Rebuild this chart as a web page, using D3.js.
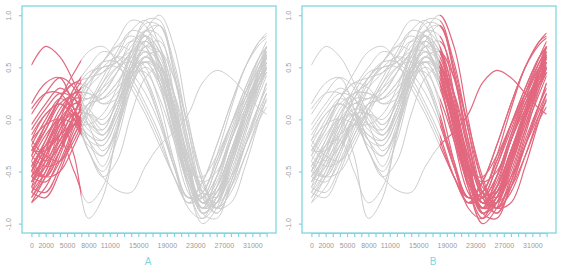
<html>
<head>
<meta charset="utf-8">
<style>
  body { margin: 0; background: #fff; }
  svg { font-family: "Liberation Sans", Arial, sans-serif; }
  .box { fill: none; stroke: #80d6df; stroke-width: 1.3; }
  .axis path, .axis line { stroke: #80d6df; stroke-width: 1.2; }
  .axis text { fill: #9a9a9a; font-size: 7px; }
  .grey { fill: none; stroke: #cccccc; stroke-width: 1; }
  .pink { fill: none; stroke: #e2687f; stroke-width: 1.2; }
  .panel-label { fill: #80d6df; font-size: 10px; text-anchor: middle; }
</style>
</head>
<body>
<script src="https://d3js.org/d3.v7.min.js"></script>
<script>
// sample positions of every curve
var xKnots = [0, 2000, 4000, 6000, 8000, 10000, 12000, 14000, 16000, 18000,
              20000, 22000, 24000, 26000, 28000, 30000, 32000, 33000];

// curve values, one row per curve, read at xKnots
var curves = [
  [-0.55,-0.35,-0.10, 0.10, 0.05,-0.10, 0.20, 0.60, 0.80, 0.55, 0.00,-0.60,-0.85,-0.55,-0.15, 0.20, 0.50, 0.62],
  [-0.70,-0.50,-0.20, 0.05,-0.20,-0.45,-0.10, 0.45, 0.85, 0.80, 0.25,-0.45,-0.90,-0.75,-0.35, 0.10, 0.50, 0.65],
  [-0.30,-0.10, 0.15, 0.25, 0.35, 0.50, 0.60, 0.55, 0.35, 0.00,-0.40,-0.75,-0.70,-0.40,-0.05, 0.25, 0.50, 0.58],
  [-0.45,-0.55,-0.30, 0.05, 0.30, 0.45, 0.60, 0.75, 0.70, 0.35,-0.20,-0.70,-0.85,-0.55,-0.15, 0.25, 0.60, 0.75],
  [ 0.52, 0.70, 0.60, 0.35, 0.05,-0.15, 0.05, 0.45, 0.60, 0.40,-0.05,-0.55,-0.75,-0.55,-0.20, 0.10, 0.35, 0.45],
  [-0.20,-0.05, 0.00,-0.35,-0.95,-0.75,-0.10, 0.50, 0.80, 0.65, 0.10,-0.50,-0.80,-0.65,-0.30, 0.05, 0.35, 0.45],
  [ 0.15, 0.35, 0.40, 0.10,-0.30,-0.55,-0.68,-0.70,-0.45,-0.25,-0.12, 0.05, 0.35, 0.47, 0.40, 0.25, 0.10, 0.05],
  [-0.80,-0.55,-0.25, 0.00,-0.30,-0.50,-0.20, 0.30, 0.60, 0.45,-0.05,-0.55,-0.80,-0.60,-0.20, 0.15, 0.45, 0.55],
  [-0.60,-0.30, 0.00, 0.15, 0.20, 0.30, 0.45, 0.65, 0.85, 0.90, 0.50,-0.10,-0.60,-0.85,-0.60,-0.20, 0.15, 0.30],
  [-0.10, 0.10, 0.25, 0.20, 0.00,-0.15, 0.10, 0.50, 0.75, 0.55, 0.05,-0.50,-0.80,-0.65,-0.30, 0.05, 0.35, 0.48],
  [-0.65,-0.70,-0.45,-0.10, 0.15, 0.20, 0.35, 0.60, 0.80, 0.65, 0.10,-0.45,-0.80,-0.75,-0.40, 0.05, 0.45, 0.60],
  [-0.40,-0.15, 0.00,-0.05,-0.25,-0.35,-0.05, 0.40, 0.55, 0.30,-0.15,-0.50,-0.55,-0.35,-0.05, 0.20, 0.40, 0.50],
  [-0.75,-0.50,-0.15, 0.20, 0.40, 0.55, 0.75, 0.95, 0.90, 0.50,-0.10,-0.65,-0.95,-0.80,-0.40, 0.05, 0.45, 0.62],
  [-0.25, 0.00, 0.20, 0.10,-0.20,-0.35,-0.10, 0.30, 0.55, 0.50, 0.15,-0.35,-0.70,-0.70,-0.40, 0.00, 0.45, 0.70],
  [-0.50,-0.20, 0.10, 0.25, 0.25, 0.15, 0.25, 0.50, 0.70, 0.65, 0.25,-0.30,-0.75,-0.85,-0.55,-0.10, 0.35, 0.55],
  [-0.35,-0.45,-0.40,-0.15, 0.10, 0.35, 0.60, 0.85, 0.95, 0.70, 0.10,-0.50,-0.90,-0.80,-0.40, 0.05, 0.50, 0.70],
  [ 0.05, 0.25, 0.40, 0.30,-0.05,-0.30,-0.10, 0.35, 0.60, 0.50, 0.05,-0.50,-0.80,-0.65,-0.30, 0.05, 0.35, 0.45],
  [-0.55,-0.60,-0.40,-0.05, 0.30, 0.55, 0.70, 0.65, 0.40, 0.00,-0.45,-0.75,-0.70,-0.35, 0.10, 0.50, 0.75, 0.83],
  [-0.70,-0.40,-0.05, 0.15, 0.10,-0.05, 0.15, 0.45, 0.55, 0.45, 0.10,-0.35,-0.65,-0.75,-0.55,-0.25, 0.05, 0.18],
  [-0.20,-0.35,-0.40,-0.20, 0.10, 0.35, 0.50, 0.55, 0.40, 0.05,-0.45,-0.80,-0.70,-0.40,-0.05, 0.30, 0.60, 0.70],
  [-0.60,-0.35, 0.00, 0.30, 0.50, 0.65, 0.60, 0.45, 0.25,-0.05,-0.45,-0.75,-0.75,-0.45,-0.10, 0.25, 0.55, 0.65],
  [-0.45,-0.25,-0.05, 0.05,-0.05,-0.10, 0.20, 0.65, 0.95, 0.95, 0.45,-0.30,-0.90,-0.95,-0.60,-0.15, 0.30, 0.50],
  [ 0.10, 0.25, 0.25, 0.05,-0.20,-0.25, 0.00, 0.35, 0.50, 0.35,-0.05,-0.45,-0.60,-0.50,-0.20, 0.15, 0.40, 0.50],
  [-0.80,-0.65,-0.35, 0.00, 0.15, 0.20, 0.35, 0.50, 0.55, 0.35,-0.05,-0.50,-0.80,-0.70,-0.35, 0.05, 0.40, 0.55],
  [-0.35,-0.10, 0.20, 0.35, 0.40, 0.45, 0.55, 0.65, 0.65, 0.40,-0.05,-0.55,-0.85,-0.75,-0.40, 0.00, 0.35, 0.50],
  [-0.60,-0.40,-0.20,-0.05,-0.15,-0.25, 0.00, 0.40, 0.75, 0.90, 0.55,-0.10,-0.70,-0.90,-0.65,-0.25, 0.15, 0.35],
  [-0.15, 0.05, 0.15, 0.05,-0.15,-0.20, 0.10, 0.55, 0.75, 0.55, 0.05,-0.50,-0.80,-0.70,-0.35, 0.05, 0.40, 0.60],
  [-0.50,-0.55,-0.30, 0.05, 0.40, 0.55, 0.55, 0.40, 0.15,-0.15,-0.55,-0.80,-0.60,-0.25, 0.15, 0.50, 0.75, 0.80],
  [-0.65,-0.45,-0.10, 0.25, 0.45, 0.50, 0.55, 0.70, 0.85, 0.70, 0.20,-0.40,-0.85,-0.80,-0.45,-0.05, 0.30, 0.45],
  [-0.30,-0.30,-0.15, 0.05, 0.05,-0.05, 0.15, 0.50, 0.65, 0.45, 0.00,-0.50,-0.85,-0.80,-0.45,-0.05, 0.35, 0.50],
  [-0.55,-0.25, 0.00, 0.05,-0.10,-0.20, 0.05, 0.45, 0.70, 0.75, 0.40,-0.20,-0.70,-0.85,-0.60,-0.25, 0.10, 0.25],
  [-0.40,-0.55,-0.50,-0.25, 0.05, 0.30, 0.50, 0.60, 0.50, 0.15,-0.40,-0.85,-0.95,-0.65,-0.20, 0.20, 0.55, 0.70],
  [-0.75,-0.55,-0.30,-0.05, 0.15, 0.40, 0.65, 0.85, 0.80, 0.45,-0.10,-0.60,-0.85,-0.70,-0.30, 0.10, 0.45, 0.62],
  [-0.05, 0.15, 0.30, 0.20,-0.05,-0.15, 0.10, 0.45, 0.65, 0.55, 0.10,-0.45,-0.80,-0.70,-0.35, 0.05, 0.40, 0.55],
  [-0.50,-0.30,-0.15,-0.05,-0.05, 0.05, 0.30, 0.65, 0.92, 0.90, 0.45,-0.20,-0.75,-0.90,-0.65,-0.25, 0.15, 0.35],
  [-0.65,-0.30, 0.05, 0.25, 0.25, 0.20, 0.30, 0.45, 0.45, 0.20,-0.20,-0.60,-0.75,-0.55,-0.20, 0.15, 0.45, 0.58],
  [-0.25,-0.40,-0.25, 0.05, 0.35, 0.50, 0.50, 0.35, 0.10,-0.20,-0.55,-0.75,-0.60,-0.25, 0.15, 0.50, 0.72, 0.78],
  [-0.45,-0.20, 0.05, 0.20, 0.20, 0.25, 0.45, 0.75, 0.80, 0.50,-0.05,-0.60,-0.90,-0.75,-0.35, 0.05, 0.45, 0.65],
  [-0.70,-0.75,-0.50,-0.15, 0.10, 0.25, 0.45, 0.65, 0.75, 0.60, 0.15,-0.40,-0.80,-0.80,-0.50,-0.10, 0.25, 0.42],
  [-0.35,-0.05, 0.20, 0.35, 0.30, 0.15, 0.20, 0.40, 0.60, 0.65, 0.40,-0.05,-0.55,-0.85,-0.80,-0.45, 0.00, 0.20],
  [-0.50,-0.25,-0.20,-0.50,-0.80,-0.65,-0.15, 0.40, 0.70, 0.55, 0.05,-0.50,-0.80,-0.65,-0.30, 0.05, 0.40, 0.52],
  [-0.30,-0.05, 0.20, 0.45, 0.65, 0.70, 0.55, 0.30, 0.05,-0.25,-0.55,-0.80,-0.75,-0.45,-0.05, 0.30, 0.60, 0.68],
  [-0.60,-0.45,-0.25,-0.05, 0.05, 0.00, 0.20, 0.55, 0.85, 1.00, 0.70, 0.00,-0.60,-0.85,-0.70,-0.35, 0.05, 0.25],
  [-0.20, 0.05, 0.15, 0.00,-0.30,-0.55,-0.40, 0.05, 0.40, 0.50, 0.25,-0.25,-0.70,-0.80,-0.65,-0.35, 0.00, 0.12],
  [-0.55,-0.35,-0.05, 0.20, 0.40, 0.55, 0.70, 0.80, 0.70, 0.35,-0.15,-0.65,-1.00,-0.85,-0.45, 0.00, 0.45, 0.60]
];

var xTickLabels = [0, 2000, 5000, 8000, 11000, 15000, 19000, 23000, 27000, 31000];
var yTickValues = [-1, -0.5, 0, 0.5, 1];
var yTickLabels = ["-1.0", "-0.5", "0.0", "0.5", "1.0"];

// highlighted span of each panel
var panels = [
  { name: "A", left: 22, from: 0, to: 7000 },
  { name: "B", left: 302, from: 18000, to: 33000 }
];

var width = 571, height = 267,
    boxWidth = 254, plotTop = 6, plotBottom = 233;

var svg = d3.select("body").append("svg")
    .attr("width", width)
    .attr("height", height);

var y = d3.scaleLinear().domain([-1.09, 1.088]).range([plotBottom, plotTop]);

panels.forEach(function(p, i) {
  var x = d3.scaleLinear().domain([-1320, 34320]).range([p.left, p.left + boxWidth]);

  var line = d3.line()
      .x(function(d, j) { return x(xKnots[j]); })
      .y(function(d) { return y(d); })
      .curve(d3.curveCatmullRom.alpha(0.5));

  var defs = svg.append("defs");
  defs.append("clipPath").attr("id", "hi" + i)
    .append("rect")
      .attr("x", x(p.from)).attr("width", x(p.to) - x(p.from))
      .attr("y", 0).attr("height", height);
  // the grey part is everything outside the highlighted span
  var lo = defs.append("clipPath").attr("id", "lo" + i);
  lo.append("rect")
      .attr("x", 0).attr("width", x(p.from))
      .attr("y", 0).attr("height", height);
  lo.append("rect")
      .attr("x", x(p.to)).attr("width", width - x(p.to))
      .attr("y", 0).attr("height", height);

  svg.append("g").attr("clip-path", "url(#lo" + i + ")")
    .selectAll("path").data(curves).enter().append("path")
      .attr("class", "grey")
      .attr("d", line);

  svg.append("g").attr("clip-path", "url(#hi" + i + ")")
    .selectAll("path").data(curves).enter().append("path")
      .attr("class", "pink")
      .attr("d", line);

  svg.append("rect")
      .attr("class", "box")
      .attr("x", p.left).attr("y", plotTop)
      .attr("width", boxWidth).attr("height", plotBottom - plotTop);

  var xAxis = d3.axisBottom(x)
      .tickValues(d3.range(0, 33001, 1000))
      .tickSize(4)
      .tickPadding(6)
      .tickFormat(function(d) { return xTickLabels.indexOf(d) >= 0 ? d : ""; });

  var gx = svg.append("g").attr("class", "axis")
      .attr("transform", "translate(0," + plotBottom + ")")
      .call(xAxis);
  gx.select(".domain").attr("d", "M" + x(0) + ",0.5H" + x(33000));

  var yAxis = d3.axisLeft(y)
      .tickValues(yTickValues)
      .tickSize(3)
      .tickFormat(function(d, j) { return yTickLabels[j]; });

  var gy = svg.append("g").attr("class", "axis")
      .attr("transform", "translate(" + p.left + ",0)")
      .call(yAxis);
  gy.select(".domain").remove();
  gy.selectAll(".tick text")
      .attr("x", 0).attr("y", 0).attr("dy", null)
      .attr("text-anchor", "middle")
      .attr("transform", "translate(-11,0) rotate(-90)");

  svg.append("text")
      .attr("class", "panel-label")
      .attr("x", i === 0 ? 148 : 433)
      .attr("y", 265)
      .text(p.name);
});
</script>
</body>
</html>
